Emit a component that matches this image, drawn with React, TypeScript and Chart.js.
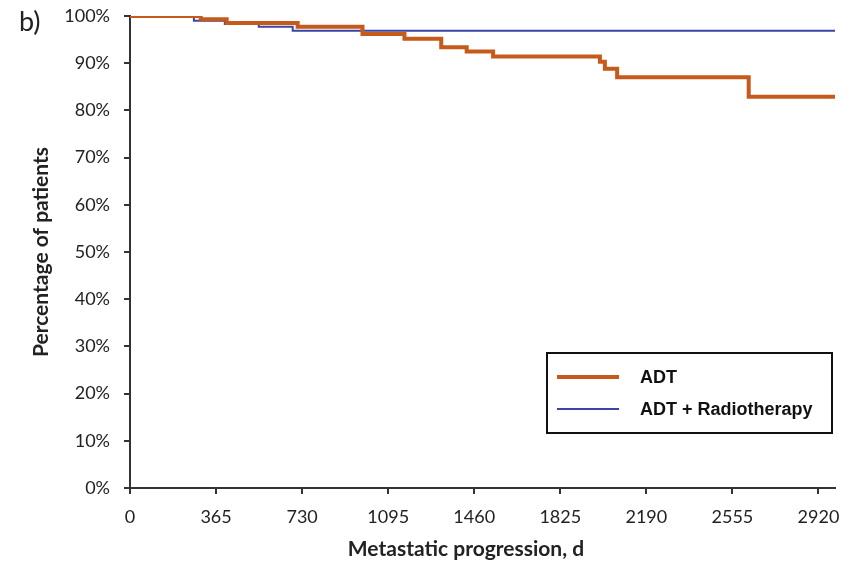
import React, { useEffect, useRef } from "react";
import { Chart, registerables } from "chart.js";

Chart.register(...registerables);

// Kaplan–Meier style step data (day, % of patients free of metastatic progression)
const adtDays = [0, 300, 410, 711, 986, 1164, 1320, 1428, 1540, 1993, 2014, 2066, 2624, 2990];
const adtPct = [100, 99.3, 98.5, 97.7, 96.2, 95.2, 93.4, 92.5, 91.4, 90.3, 88.8, 87.0, 82.9, 82.9];
const rtDays = [0, 271, 402, 546, 690, 2990];
const rtPct = [100, 99.0, 98.3, 97.7, 96.9, 96.9];

const xTicks = [0, 365, 730, 1095, 1460, 1825, 2190, 2555, 2920];
const seriesLabels = ["ADT", "ADT + Radiotherapy"];
const seriesColors = ["#C55A1B", "#3B45A8"];
const panelLabel = "b)";
const xTitle = "Metastatic progression, d";
const yTitle = "Percentage of patients";

const W = 846;
const H = 561;

export default function App() {
  const ref = useRef<HTMLCanvasElement | null>(null);

  useEffect(() => {
    if (!ref.current) return;

    const overlay = {
      id: "overlay",
      afterDraw(chart: any) {
        const ctx = chart.ctx;
        ctx.save();
        // panel label
        ctx.fillStyle = "#222";
        ctx.font = "27px Lato";
        ctx.textBaseline = "middle";
        ctx.textAlign = "left";
        ctx.fillText(panelLabel, 19, 22);

        // x-axis title (slightly left of the plot centre, as in the source figure)
        ctx.font = "bold 21px Lato";
        ctx.textAlign = "center";
        ctx.textBaseline = "alphabetic";
        ctx.fillText(xTitle, 466, 556);

        // legend box
        const bx = 547, by = 353, bw = 285, bh = 80;
        ctx.fillStyle = "#fff";
        ctx.fillRect(bx, by, bw, bh);
        ctx.strokeStyle = "#111";
        ctx.lineWidth = 2;
        ctx.strokeRect(bx, by, bw, bh);
        const rows = [377, 409];
        const widths = [4, 2];
        chart.data.datasets.forEach((ds: any, i: number) => {
          ctx.strokeStyle = ds.borderColor;
          ctx.lineWidth = widths[i];
          ctx.beginPath();
          ctx.moveTo(557, rows[i]);
          ctx.lineTo(619, rows[i]);
          ctx.stroke();
          ctx.fillStyle = "#111";
          ctx.font = "bold 18px 'Liberation Sans'";
          ctx.textAlign = "left";
          ctx.textBaseline = "middle";
          ctx.fillText(ds.label, 640, rows[i] + 1);
        });
        ctx.restore();
      },
    };

    const chart = new Chart(ref.current, {
      type: "line",
      data: {
        datasets: [
          {
            label: seriesLabels[0],
            data: adtDays.map((d, i) => ({ x: d, y: adtPct[i] })),
            borderColor: seriesColors[0],
            borderWidth: 4,
            stepped: "before",
            pointRadius: 0,
            fill: false,
          },
          {
            label: seriesLabels[1],
            data: rtDays.map((d, i) => ({ x: d, y: rtPct[i] })),
            borderColor: seriesColors[1],
            borderWidth: 2,
            stepped: "before",
            pointRadius: 0,
            fill: false,
          },
        ],
      },
      options: {
        responsive: false,
        animation: false,
        layout: { padding: { top: 16, right: 11, bottom: 0, left: 0 } },
        plugins: {
          legend: { display: false },
          tooltip: { enabled: false },
        },
        scales: {
          x: {
            type: "linear",
            min: 0,
            max: 2990,
            afterBuildTicks: (s: any) => {
              s.ticks = xTicks.map((v) => ({ value: v }));
            },
            afterFit: (s: any) => {
              s.height = 73;
              s.paddingLeft = 0;
              s.paddingRight = 0;
            },
            grid: {
              display: true,
              drawOnChartArea: false,
              drawTicks: true,
              tickLength: 6,
              color: "#333",
              lineWidth: 2,
            },
            border: { display: true, color: "#333", width: 2 },
            ticks: {
              color: "#222",
              font: { family: "Lato", size: 18 },
              padding: 12,
              maxRotation: 0,
              callback: (v: any) => String(v),
            },
            title: { display: false, text: xTitle },
          },
          y: {
            min: 0,
            max: 100,
            afterFit: (s: any) => {
              s.width = 130;
              s.paddingTop = 0;
              s.paddingBottom = 0;
            },
            grid: {
              display: true,
              drawOnChartArea: false,
              drawTicks: true,
              tickLength: 6,
              color: "#333",
              lineWidth: 2,
            },
            border: { display: true, color: "#333", width: 2 },
            ticks: {
              stepSize: 10,
              color: "#222",
              font: { family: "Lato", size: 18 },
              padding: 14,
              callback: (v: any) => v + "%",
            },
            title: {
              display: true,
              text: yTitle,
              color: "#222",
              font: { family: "Lato", size: 21, weight: "bold" },
              padding: { top: 29, bottom: 0 },
            },
          },
        },
      },
      plugins: [overlay],
    });

    return () => chart.destroy();
  }, []);

  return (
    <div style={{ position: "absolute", left: 0, top: 0, width: W, height: H, background: "#fff" }}>
      <canvas ref={ref} width={W} height={H} style={{ width: W, height: H }} />
    </div>
  );
}
